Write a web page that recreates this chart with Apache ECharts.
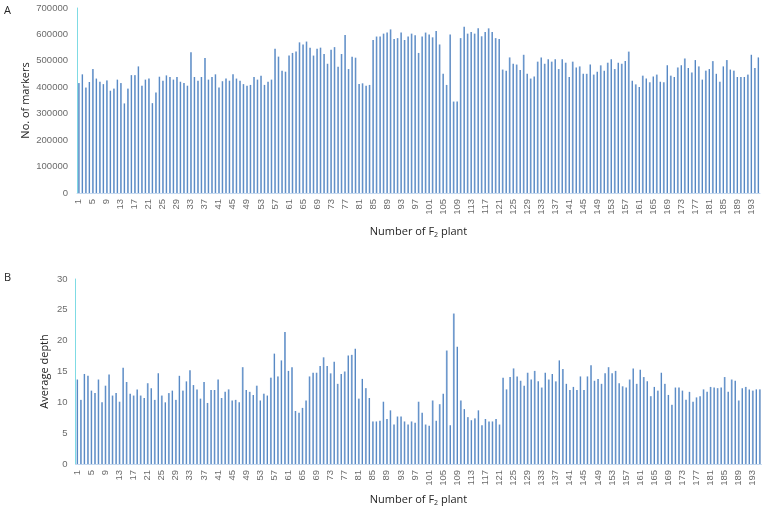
<!DOCTYPE html>
<html>
<head>
<meta charset="utf-8">
<script src="https://cdn.jsdelivr.net/npm/echarts@6/dist/echarts.min.js"></script>
<style>
  html, body { margin: 0; padding: 0; background: #fff; }
  #chart { width: 768px; height: 511px; }
</style>
</head>
<body>
<div id="chart"></div>
<script>
// F2 plant numbers 1..195
const plants = Array.from({ length: 195 }, (_, i) => String(i + 1))

// panel A: number of markers per plant
const markers = [
  416000, 449000, 399000, 420000, 469000, 433000, 421000, 412000, 426000, 387000,
  395000, 429000, 416000, 339000, 395000, 446000, 446000, 479000, 406000, 429000,
  433000, 340000, 380000, 440000, 425000, 445000, 439000, 429000, 439000, 421000,
  416000, 406000, 533000, 439000, 425000, 439000, 511000, 429000, 439000, 449000,
  399000, 423000, 433000, 425000, 449000, 433000, 425000, 412000, 406000, 409000,
  439000, 429000, 444000, 409000, 421000, 429000, 546000, 516000, 463000, 459000,
  520000, 530000, 535000, 570000, 562000, 573000, 550000, 520000, 546000, 550000,
  526000, 489000, 542000, 552000, 478000, 526000, 598000, 469000, 516000, 512000,
  412000, 415000, 406000, 409000, 579000, 592000, 592000, 603000, 607000, 619000,
  583000, 586000, 607000, 579000, 592000, 603000, 597000, 530000, 592000, 607000,
  600000, 589000, 613000, 562000, 451000, 409000, 600000, 346000, 346000, 586000,
  629000, 603000, 609000, 603000, 623000, 593000, 609000, 623000, 609000, 586000,
  583000, 467000, 463000, 513000, 489000, 486000, 465000, 523000, 451000, 433000,
  441000, 497000, 513000, 489000, 506000, 497000, 506000, 469000, 506000, 493000,
  439000, 497000, 475000, 479000, 451000, 451000, 486000, 448000, 459000, 483000,
  463000, 493000, 506000, 469000, 493000, 489000, 499000, 535000, 425000, 411000,
  401000, 444000, 433000, 419000, 441000, 448000, 421000, 419000, 483000, 444000,
  439000, 475000, 483000, 509000, 473000, 456000, 503000, 479000, 429000, 463000,
  469000, 499000, 451000, 421000, 479000, 503000, 467000, 463000, 439000, 439000,
  439000, 448000, 523000, 473000, 513000
]

// panel B: average depth per plant
const depth = [
  13.7, 10.4, 14.6, 14.3, 11.9, 11.5, 13.7, 10.0, 12.7, 14.5,
  11.1, 11.5, 10.1, 15.6, 13.3, 11.4, 11.1, 12.1, 11.1, 10.7,
  13.1, 12.3, 10.4, 14.7, 11.1, 10.0, 11.5, 11.9, 10.4, 14.3,
  11.9, 13.4, 15.2, 12.8, 12.1, 10.6, 13.3, 9.9, 12.0, 12.0,
  13.7, 10.7, 11.7, 12.1, 10.3, 10.4, 10.0, 15.7, 12.0, 11.7,
  11.2, 12.7, 10.3, 11.4, 11.1, 14.0, 17.9, 14.2, 16.8, 21.4,
  15.1, 15.7, 8.6, 8.3, 9.1, 10.3, 14.2, 14.8, 14.8, 15.9,
  17.3, 15.9, 14.7, 16.6, 13.0, 14.6, 15.0, 17.6, 17.7, 18.7,
  10.6, 13.8, 12.3, 10.7, 6.9, 6.9, 7.0, 10.1, 7.3, 8.7,
  6.4, 7.7, 7.7, 6.9, 6.4, 6.9, 6.7, 10.1, 8.3, 6.4,
  6.2, 10.3, 7.0, 9.7, 11.4, 18.4, 6.3, 24.4, 19.0, 10.3,
  8.9, 7.6, 7.1, 7.4, 8.7, 6.3, 7.3, 6.9, 6.9, 7.3,
  6.4, 14.0, 12.1, 14.1, 15.5, 14.2, 13.5, 12.7, 14.8, 13.7,
  15.1, 13.4, 12.4, 14.8, 13.7, 14.6, 13.4, 16.8, 15.4, 13.0,
  12.0, 12.5, 12.0, 14.2, 12.0, 14.2, 16.0, 13.5, 13.8, 13.0,
  14.7, 15.7, 14.7, 15.1, 13.1, 12.6, 12.4, 13.7, 15.5, 13.0,
  15.3, 14.1, 13.4, 11.0, 12.5, 11.9, 14.8, 13.0, 11.2, 9.6,
  12.4, 12.4, 11.9, 10.4, 11.7, 10.1, 10.8, 11.0, 12.1, 11.7,
  12.5, 12.4, 12.3, 12.4, 14.1, 11.7, 13.7, 13.5, 10.3, 12.3,
  12.5, 12.1, 11.9, 12.1, 12.1
]

const FONT = 'Liberation Sans'
const tickStyle = { color: '#6b6b6b', fontSize: 9.5, fontFamily: FONT }
const nameStyle = {
  color: '#262626', fontSize: 11, fontFamily: 'Open Sans',
  rich: { sub: { fontSize: 7, fontFamily: 'Open Sans', color: '#262626', padding: [5, 0, 0, 0] } }
}

const xAxisCfg = (gridIndex) => ({
  type: 'category',
  gridIndex: gridIndex,
  data: plants,
  name: 'Number of F{sub|2} plant',
  nameLocation: 'middle',
  nameGap: gridIndex === 0 ? 33 : 30,
  nameMoveOverlap: false,
  nameTextStyle: nameStyle,
  axisLine: { lineStyle: { color: '#c6d9ef', width: 1 } },
  axisTick: { show: false },
  axisLabel: Object.assign({ interval: 3, rotate: 90, margin: 6 }, tickStyle)
})

const yAxisCfg = (gridIndex, max, interval, name, gap, margin) => ({
  type: 'value',
  gridIndex: gridIndex,
  min: 0,
  max: max,
  interval: interval,
  name: name,
  nameLocation: 'middle',
  nameGap: gap,
  nameMoveOverlap: false,
  nameTextStyle: { color: '#262626', fontSize: 11, fontFamily: 'Open Sans' },
  axisLine: { show: true, lineStyle: { color: '#7fdbe4', width: 1 } },
  axisTick: { show: false },
  splitLine: { show: false },
  axisLabel: Object.assign({ margin: margin, formatter: v => String(v) }, tickStyle)
})

const barStyle = {
  color: new echarts.graphic.LinearGradient(0, 0, 1, 0, [
    { offset: 0, color: '#8fb6e2' },
    { offset: 1, color: '#3c70b2' }
  ])
}

const option = {
  animation: false,
  backgroundColor: '#fff',
  graphic: [
    { type: 'text', left: 4, top: 5, style: { text: 'A', fontSize: 11, fontFamily: 'Open Sans', fill: '#262626' } },
    { type: 'text', left: 4, top: 272, style: { text: 'B', fontSize: 11, fontFamily: 'Open Sans', fill: '#262626' } }
  ],
  grid: [
    { left: 77, top: 8, width: 683, height: 185 },
    { left: 75.5, top: 279, width: 686, height: 185 }
  ],
  xAxis: [xAxisCfg(0), xAxisCfg(1)],
  yAxis: [
    yAxisCfg(0, 700000, 100000, 'No. of markers', 46, 9),
    yAxisCfg(1, 30, 5, 'Average depth', 25, 8)
  ],
  series: [
    {
      type: 'bar',
      xAxisIndex: 0,
      yAxisIndex: 0,
      data: markers,
      barWidth: 1.6,
      itemStyle: barStyle
    },
    {
      type: 'bar',
      xAxisIndex: 1,
      yAxisIndex: 1,
      data: depth,
      barWidth: 1.6,
      itemStyle: barStyle
    }
  ]
}

const myChart = echarts.init(document.getElementById('chart'))
myChart.setOption(option)
</script>
</body>
</html>
